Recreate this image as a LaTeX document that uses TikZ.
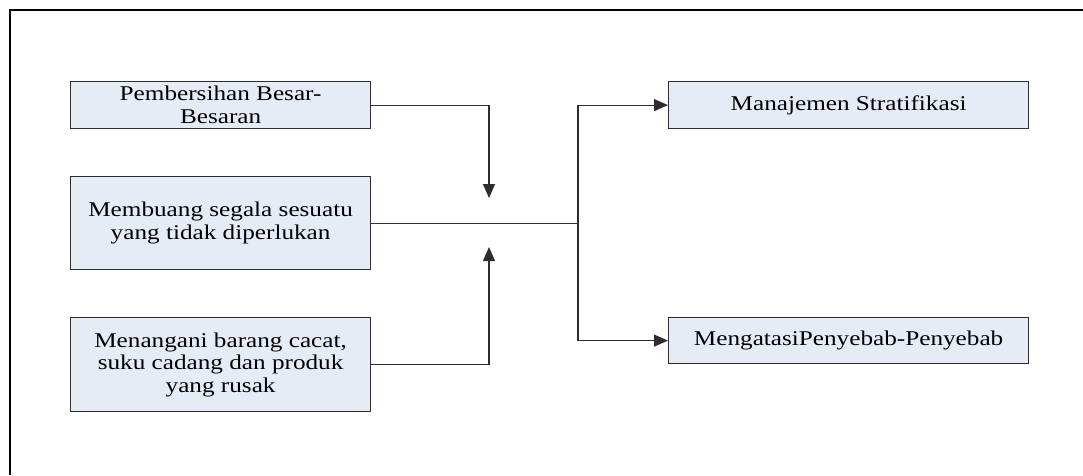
\documentclass[tikz,border=0pt]{standalone}
\usepackage{fontspec}
\setmainfont{Liberation Serif}[FakeStretch=1.2]
\usetikzlibrary{arrows.meta, positioning}
\definecolor{boxfill}{RGB}{230,236,246}
\definecolor{boxline}{RGB}{45,45,45}

\begin{document}
\begin{tikzpicture}[
  x=1pt, y=-1pt,
  node distance=48pt,
  blk/.style={rectangle, draw=boxline, fill=boxfill, line width=1.2pt, minimum width=300pt, inner sep=0pt, font=\fontsize{21}{22.7}\selectfont, align=center},
  arr/.style={-{Triangle[length=14pt,width=12pt]}, line width=1.2pt, boxline}
]
  \useasboundingbox (0,0) rectangle (1083,475);
  \draw[line width=1.5pt] (1083,10) -- (10,10) -- (10,475);

  \node[blk, anchor=north west, minimum height=47pt] (b1) at (70,81) {Pembersihan Besar-\\Besaran};
  \node[blk, anchor=north west, minimum height=93pt] (b2) at (70,176) {Membuang segala sesuatu\\yang tidak diperlukan};
  \node[blk, below=47pt of b2, minimum height=94pt] (b3) {Menangani barang cacat,\\suku cadang dan produk\\yang rusak};

  \node[blk, anchor=north west, minimum width=360pt, minimum height=47pt] (r1) at (668,81) {Manajemen Stratifikasi};
  \node[blk, anchor=north west, minimum width=360pt, minimum height=46pt] (r2) at (668,317) {MengatasiPenyebab-Penyebab};

  \coordinate (tA) at (489,198);
  \coordinate (tB) at (489,247);
  \coordinate (bx) at (578,0);
  \coordinate (jn) at (b2.east -| bx);

  \draw[arr] (b1.east) -| (tA);
  \draw[arr] (b3.east) -| (tB);
  \draw[line width=1.2pt, boxline] (b2.east) -- (jn);
  \draw[arr] (jn) |- (r1.west);
  \draw[arr] (jn) |- (r2.west);
\end{tikzpicture}
\end{document}
